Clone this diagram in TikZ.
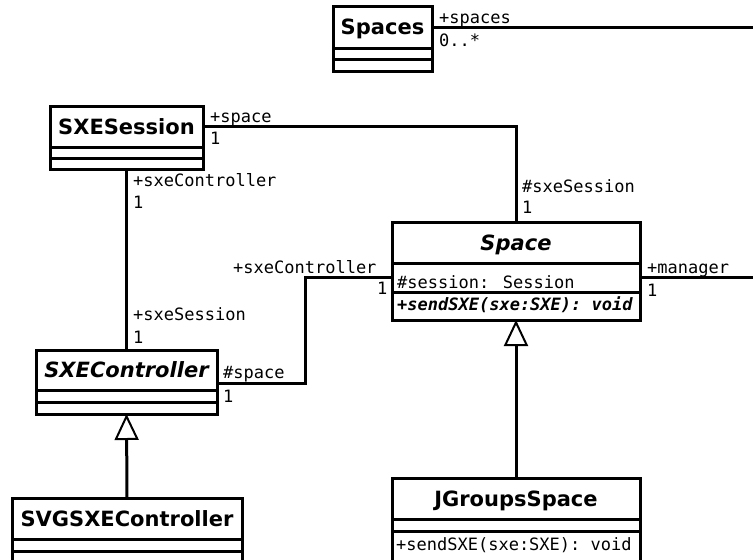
\documentclass[tikz,border=0pt]{standalone}
\usepackage{fontspec}
\setmainfont{DejaVu Sans}
\newfontfamily\monof{DejaVu Sans Mono}
\usetikzlibrary{arrows.meta}
\tikzset{
 cbox/.style={draw, line width=3pt, inner sep=0pt, outer sep=0pt, anchor=north west},
 ttl/.style={cbox, font=\fontsize{21}{25}\selectfont\bfseries, text height=15.3pt, text depth=0pt},
 ittl/.style={ttl, font=\fontsize{21}{25}\selectfont\bfseries\itshape},
 lbl/.style={font=\monof\fontsize{17}{20}\selectfont, anchor=base west, inner sep=0pt},
 conn/.style={line width=3pt},
 gen/.style={line width=3pt, -{Triangle[open, length=26pt, width=24pt, line width=2pt]}},
}
\begin{document}
\begin{tikzpicture}[x=1pt,y=-1pt]
\useasboundingbox (0,0) rectangle (753,560);
% Spaces
\node[ttl, minimum width=99pt, minimum height=42pt] (spsT) at (333,6) {Spaces};
\node[cbox, minimum width=99pt, minimum height=11pt] (sps2) at (333,48) {};
\node[cbox, minimum width=99pt, minimum height=12pt] (sps3) at (333,59) {};
% SXESession
\node[ttl, minimum width=153pt, minimum height=41pt] (sxT) at (50,106) {SXESession};
\node[cbox, minimum width=153pt, minimum height=11pt] (sx2) at (50,147) {};
\node[cbox, minimum width=153pt, minimum height=11pt] (sx3) at (50,158) {};
% SXEController
\node[ittl, minimum width=181pt, minimum height=40pt] (scT) at (36,350) {SXEController};
\node[cbox, minimum width=181pt, minimum height=12pt] (sc2) at (36,390) {};
\node[cbox, minimum width=181pt, minimum height=12pt] (sc3) at (36,402) {};
% Space
\node[ittl, minimum width=248pt, minimum height=41pt] (spT) at (392,222) {Space};
\node[cbox, minimum width=248pt, minimum height=29pt] (sp2) at (392,263) {};
\node[cbox, minimum width=248pt, minimum height=28pt] (sp3) at (392,292) {};
\node[lbl] (spattr) at (397,288) {\#session: Session};
\node[lbl, font=\monof\fontsize{17}{20}\selectfont\bfseries\itshape] (spop) at (397,310) {+sendSXE(sxe:SXE): void};
% JGroupsSpace
\node[ttl, minimum width=248pt, minimum height=41pt] (jgT) at (392,478) {JGroupsSpace};
\node[cbox, minimum width=248pt, minimum height=12pt] (jg2) at (392,519) {};
\node[cbox, minimum width=248pt, minimum height=34pt] (jg3) at (392,531) {};
\node[lbl] (jgop) at (396,550) {+sendSXE(sxe:SXE): void};
% SVGSXEController
\node[ttl, minimum width=230pt, minimum height=41pt] (svT) at (12,498) {SVGSXEController};
\node[cbox, minimum width=230pt, minimum height=12pt] (sv2) at (12,539) {};
\node[cbox, minimum width=230pt, minimum height=20pt] (sv3) at (12,551) {};
% free ends
\coordinate (spsEnd) at (760,27);
\coordinate (mgEnd) at (760,277.5);
% connectors
\draw[conn] (spsT.east) -- (spsEnd);
\draw[conn] (sxT.east) -| (spT.north);
\draw[conn] (sx3.south) -- (scT.north);
\draw[conn] ([yshift=7pt]scT.south east) -- ++(88,0) |- (sp2.west);
\draw[conn] (sp2.east) -- (mgEnd);
\draw[gen] (jgT.north) -- (sp3.south);
\draw[gen] (svT.north) -- (sc3.south);
% labels
\node[lbl] (l1) at (439,23) {+spaces};
\node[lbl] (l2) at (439,46) {0..*};
\node[lbl] (l3) at (210,122) {+space};
\node[lbl] (l4) at (210,144) {1};
\node[lbl] (l5) at (133,186) {+sxeController};
\node[lbl] (l6) at (133,208) {1};
\node[lbl] (l7) at (522,192) {\#sxeSession};
\node[lbl] (l8) at (522,213) {1};
\node[lbl] (l9) at (133,320) {+sxeSession};
\node[lbl] (l10) at (133,343) {1};
\node[lbl] (l11) at (233,273) {+sxeController};
\node[lbl] (l12) at (377,294) {1};
\node[lbl] (l13) at (223,378) {\#space};
\node[lbl] (l14) at (223,402) {1};
\node[lbl] (l15) at (647,273) {+manager};
\node[lbl] (l16) at (647,296) {1};
\end{tikzpicture}
\end{document}
